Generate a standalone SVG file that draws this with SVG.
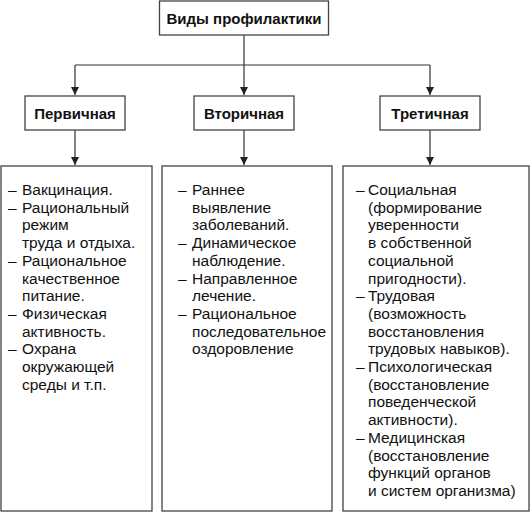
<svg xmlns="http://www.w3.org/2000/svg" width="531" height="512" viewBox="0 0 531 512">
<defs>
<marker id="arr" viewBox="0 0 8 10" refX="8" refY="5" markerWidth="8" markerHeight="10" markerUnits="userSpaceOnUse" orient="auto">
<path d="M0,1 L8,5 L0,9 Z" fill="#222"/>
</marker>
<style>
.box{fill:#fff;stroke:#444;stroke-width:1.3}
.h{font-family:"Liberation Sans",Arial,sans-serif;font-weight:bold;font-size:15px;fill:#111;text-anchor:middle}
.t{font-family:"Liberation Sans",Arial,sans-serif;font-size:15.5px;fill:#111}
.c{fill:none;stroke:#333;stroke-width:1.2}
</style>
</defs>
<rect width="531" height="512" fill="#fff"/>
<g id="connectors">
<path class="c" d="M244,35 V95" marker-end="url(#arr)"/>
<path class="c" d="M75,65 H430"/>
<path class="c" d="M75,65 V95" marker-end="url(#arr)"/>
<path class="c" d="M430,65 V95" marker-end="url(#arr)"/>
<path class="c" d="M75,130 V165" marker-end="url(#arr)"/>
<path class="c" d="M244,130 V165" marker-end="url(#arr)"/>
<path class="c" d="M430,130 V165" marker-end="url(#arr)"/>
</g>
<g id="root">
<rect class="box" x="159.5" y="1" width="169" height="34"/>
<text class="h" x="244" y="23.5">Виды профилактики</text>
</g>
<g id="primary">
<rect class="box" x="25" y="96" width="100" height="34"/>
<text class="h" x="75" y="118.5">Первичная</text>
</g>
<g id="secondary">
<rect class="box" x="194" y="96" width="100" height="34"/>
<text class="h" x="244" y="118.5">Вторичная</text>
</g>
<g id="tertiary">
<rect class="box" x="380" y="96" width="100" height="34"/>
<text class="h" x="430" y="118.5">Третичная</text>
</g>
<g id="primary-list">
<rect class="box" x="1" y="166" width="151" height="345"/>
<text class="t">
<tspan x="8" y="195">–</tspan><tspan x="22" y="195">Вакцинация.</tspan>
<tspan x="8" y="212.7">–</tspan><tspan x="22" y="212.7">Рациональный</tspan>
<tspan x="22" y="230.4">режим</tspan>
<tspan x="22" y="248.1">труда и отдыха.</tspan>
<tspan x="8" y="265.8">–</tspan><tspan x="22" y="265.8">Рациональное</tspan>
<tspan x="22" y="283.5">качественное</tspan>
<tspan x="22" y="301.2">питание.</tspan>
<tspan x="8" y="318.9">–</tspan><tspan x="22" y="318.9">Физическая</tspan>
<tspan x="22" y="336.6">активность.</tspan>
<tspan x="8" y="354.3">–</tspan><tspan x="22" y="354.3">Охрана</tspan>
<tspan x="22" y="372">окружающей</tspan>
<tspan x="22" y="389.7">среды и т.п.</tspan>
</text>
</g>
<g id="secondary-list">
<rect class="box" x="162" y="166" width="170" height="345"/>
<text class="t">
<tspan x="178" y="195">–</tspan><tspan x="192" y="195">Раннее</tspan>
<tspan x="192" y="212.7">выявление</tspan>
<tspan x="192" y="230.4">заболеваний.</tspan>
<tspan x="178" y="248.1">–</tspan><tspan x="192" y="248.1">Динамическое</tspan>
<tspan x="192" y="265.8">наблюдение.</tspan>
<tspan x="178" y="283.5">–</tspan><tspan x="192" y="283.5">Направленное</tspan>
<tspan x="192" y="301.2">лечение.</tspan>
<tspan x="178" y="318.9">–</tspan><tspan x="192" y="318.9">Рациональное</tspan>
<tspan x="192" y="336.6">последовательное</tspan>
<tspan x="192" y="354.3">оздоровление</tspan>
</text>
</g>
<g id="tertiary-list">
<rect class="box" x="343" y="166" width="186" height="345"/>
<text class="t">
<tspan x="356" y="195">–</tspan><tspan x="368" y="195">Социальная</tspan>
<tspan x="368" y="212.7">(формирование</tspan>
<tspan x="368" y="230.4">уверенности</tspan>
<tspan x="368" y="248.1">в собственной</tspan>
<tspan x="368" y="265.8">социальной</tspan>
<tspan x="368" y="283.5">пригодности).</tspan>
<tspan x="356" y="301.2">–</tspan><tspan x="368" y="301.2">Трудовая</tspan>
<tspan x="368" y="318.9">(возможность</tspan>
<tspan x="368" y="336.6">восстановления</tspan>
<tspan x="368" y="354.3">трудовых навыков).</tspan>
<tspan x="356" y="372">–</tspan><tspan x="368" y="372">Психологическая</tspan>
<tspan x="368" y="389.7">(восстановление</tspan>
<tspan x="368" y="407.4">поведенческой</tspan>
<tspan x="368" y="425.1">активности).</tspan>
<tspan x="356" y="442.8">–</tspan><tspan x="368" y="442.8">Медицинская</tspan>
<tspan x="368" y="460.5">(восстановление</tspan>
<tspan x="368" y="478.2">функций органов</tspan>
<tspan x="368" y="495.9">и систем организма)</tspan>
</text>
</g>
</svg>
